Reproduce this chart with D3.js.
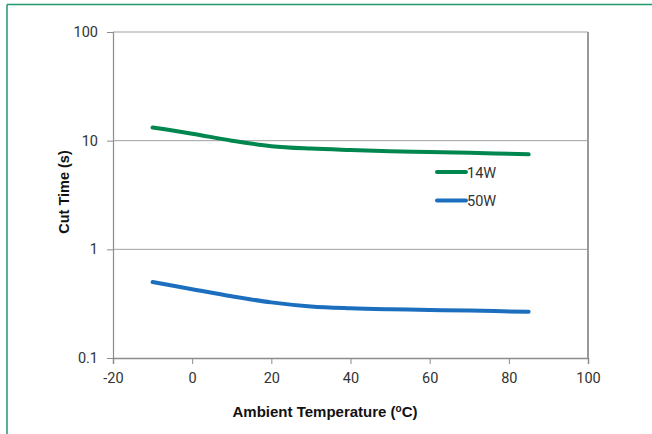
<!DOCTYPE html>
<html><head><meta charset="utf-8">
<script src="https://cdn.jsdelivr.net/npm/d3@7"></script>
<style>
html,body{margin:0;padding:0;background:#fff;}
svg{display:block;}
</style></head>
<body>
<svg id="chart" width="652" height="434"></svg>
<script>
const temps = [-10, 0, 10, 20, 30, 40, 50, 60, 70, 85];
const series14W = [13.2, 11.6, 10.0, 8.9, 8.45, 8.2, 8.0, 7.87, 7.75, 7.48];
const series50W = [0.5, 0.43, 0.37, 0.325, 0.298, 0.287, 0.281, 0.277, 0.273, 0.266];
const xTicks = [-20, 0, 20, 40, 60, 80, 100];
const xTickLabels = ["-20", "0", "20", "40", "60", "80", "100"];
const yTicks = [0.1, 1, 10, 100];
const yTickLabels = ["0.1", "1", "10", "100"];
const seriesNames = ["14W", "50W"];
const seriesColors = ["#00874f", "#1c6fbe"];

const svg = d3.select("#chart");
const L = 113, R = 588, T = 32, B = 358;
const x = d3.scaleLinear().domain([-20, 100]).range([L, R]);
const y = d3.scaleLog().domain([0.1, 100]).range([B, T]);
const tickFont = "Roboto, 'Liberation Sans', Arial, sans-serif";

// outer border (top and left visible)
svg.append("line").attr("x1", 7).attr("x2", 652).attr("y1", 4.5).attr("y2", 4.5)
  .attr("stroke", "#1f9a6c").attr("stroke-width", 1.5);
svg.append("line").attr("x1", 7).attr("x2", 7).attr("y1", 4.5).attr("y2", 434)
  .attr("stroke", "#1f9a6c").attr("stroke-width", 1.5);

// gridlines
svg.append("g").selectAll("line").data(yTicks.filter(d => d > 0.1)).join("line")
  .attr("x1", L).attr("x2", R).attr("y1", d => y(d)).attr("y2", d => y(d))
  .attr("stroke", "#a0a0a0").attr("stroke-width", 1);

// right border of plot
svg.append("line").attr("x1", R).attr("x2", R).attr("y1", T).attr("y2", B)
  .attr("stroke", "#999").attr("stroke-width", 2);

// y axis
const yAxis = d3.axisLeft(y).tickValues(yTicks).tickFormat((d, i) => yTickLabels[i]).tickSize(6).tickPadding(9);
const gy = svg.append("g").attr("transform", `translate(${L},0)`).call(yAxis);
gy.attr("font-size", null).attr("font-family", null);
gy.select(".domain").attr("stroke", "#8c8c8c").attr("stroke-width", 1.2);
gy.selectAll(".tick line").attr("stroke", "#8c8c8c");
gy.selectAll(".tick text").style("font-family", tickFont)
  .style("font-size", "14.5px").attr("fill", "#333");

// x axis
const xAxis = d3.axisBottom(x).tickValues(xTicks).tickSize(6).tickPadding(9).tickFormat((d, i) => xTickLabels[i]);
const gx = svg.append("g").attr("transform", `translate(0,${B})`).call(xAxis);
gx.attr("font-size", null).attr("font-family", null);
gx.select(".domain").attr("stroke", "#8c8c8c").attr("stroke-width", 1.5);
gx.selectAll(".tick line").attr("stroke", "#8c8c8c");
gx.selectAll(".tick text").style("font-family", tickFont)
  .style("font-size", "14.5px").attr("fill", "#333");

// series
const line = d3.line().x(d => x(d[0])).y(d => y(d[1])).curve(d3.curveCatmullRom.alpha(0.5));
[series14W, series50W].forEach((vals, i) => {
  svg.append("path").datum(temps.map((t, j) => [t, vals[j]]))
    .attr("d", line).attr("fill", "none").attr("stroke", seriesColors[i])
    .attr("stroke-width", 4).attr("stroke-linecap", "round");
});

// legend
const lg = svg.append("g");
seriesNames.forEach((n, i) => {
  const ly = 172 + i * 28.5;
  lg.append("line").attr("x1", 437).attr("x2", 466).attr("y1", ly).attr("y2", ly)
    .attr("stroke", seriesColors[i]).attr("stroke-width", 4).attr("stroke-linecap", "round");
  lg.append("text").attr("x", 467).attr("y", ly + 5.5).text(n)
    .style("font-family", tickFont).style("font-size", "14.5px").attr("fill", "#333");
});

// axis titles
const xt = svg.append("text").attr("x", 325).attr("y", 417).attr("text-anchor", "middle")
  .style("font-family", "'Liberation Sans', Arial, sans-serif").attr("font-weight", "bold")
  .style("font-size", "15px").attr("fill", "#111");
xt.append("tspan").text("Ambient Temperature (");
xt.append("tspan").text("o").style("font-size", "10px").attr("dy", -5);
xt.append("tspan").text("C)").attr("dy", 5);

svg.append("text").attr("transform", "translate(69,192) rotate(-90)").attr("text-anchor", "middle")
  .style("font-family", "'Liberation Sans', Arial, sans-serif").attr("font-weight", "bold")
  .style("font-size", "14.5px").attr("fill", "#111").text("Cut Time (s)");
</script>
</body></html>
